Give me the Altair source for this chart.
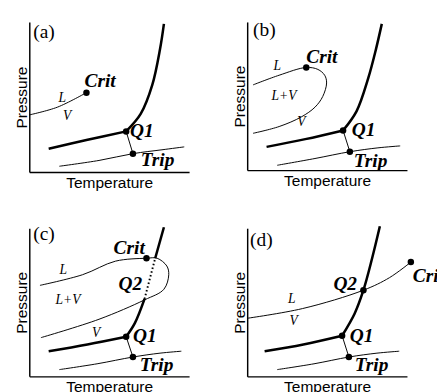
import altair as alt
import pandas as pd

# ---------------- data (schematic T, P units) ----------------
# panel (a)
A_SUB = [(31, 6), (72, 12), (107, 19), (137, 23), (160, 26)]
A_LOW = [(20, 24), (59, 33), (100, 42)]
A_QT = [(100, 42), (107, 19)]
A_MELT = [(100, 42), (115, 60), (127, 90), (135, 127), (139, 153)]
A_LV = [(0, 59), (29, 67), (59, 82)]
A_DOTS = [(59, 82), (100, 42), (107, 19)]
A_NAMES = ["Crit", "Q1", "Trip"]
A_NAME_POS = [(57, 88), (104, 36), (115, 6)]
A_PHASES = ["L", "V"]
A_PHASE_POS = [(34, 76), (39, 58)]

# panel (b)
B_SUB = [(31, 5), (70, 12), (106, 19), (135, 23), (158, 25)]
B_LOW = [(20, 24), (60, 32), (99, 41)]
B_QT = [(99, 41), (106, 19)]
B_MELT = [(99, 41), (113, 61), (125, 95), (133, 125), (139, 151)]
B_LOOP = [(6, 88), (33, 98), (61, 106), (73, 104), (80, 98), (82, 90), (78, 76),
          (70, 65), (56, 55), (33, 45), (6, 38)]
B_DOTS = [(61, 106), (99, 41), (106, 19)]
B_NAMES = ["Crit", "Q1", "Trip"]
B_NAME_POS = [(61, 111), (108, 35), (110, 3)]
B_PHASES = ["L", "L+V", "V"]
B_PHASE_POS = [(31, 107), (38, 76), (56, 50)]

# panel (c)
C_SUB = [(31, 7), (70, 13), (107, 20), (135, 24), (157, 26)]
C_LOW = [(20, 26), (60, 33), (100, 41)]
C_QT = [(100, 41), (107, 20)]
C_MELT_LO = [(100, 41), (109, 55), (119, 80)]
C_MELT_DOT = [(119, 80), (130, 122)]
C_MELT_HI = [(130, 122), (139, 154)]
C_LOOP = [(11, 94), (55, 105), (89, 119), (121, 122), (132, 122), (142, 114),
          (144, 105), (139, 90), (119, 79), (72, 59), (12, 40)]
C_DOTS = [(121, 122), (100, 41), (107, 20)]
C_NAMES = ["Crit", "Q2", "Q1", "Trip"]
C_NAME_POS = [(87, 126), (92, 89), (107, 36), (114, 6)]
C_PHASES = ["L", "L+V", "V"]
C_PHASE_POS = [(35, 110), (40, 79), (69, 45)]

# panel (d)
D_SUB = [(31, 7), (69, 13), (105, 20), (134, 24), (157, 26)]
D_LOW = [(18, 26), (58, 33), (98, 42)]
D_QT = [(98, 42), (105, 20)]
D_MELT = [(98, 42), (111, 65), (120, 89), (129, 122), (137, 155)]
D_LV = [(0, 60), (57, 70), (120, 89), (147, 102), (169, 118)]
D_DOTS = [(169, 118), (120, 89), (98, 42), (105, 20)]
D_NAMES = ["Crit", "Q2", "Q1", "Trip"]
D_NAME_POS = [(171, 97), (89, 89), (106, 36), (111, 6)]
D_PHASES = ["L", "V"]
D_PHASE_POS = [(46, 80), (48, 57)]

TAGS = ["(a)", "(b)", "(c)", "(d)"]
TAG_POS = [(4, 138), (6, 138), (4, 141), (3, 135)]

W = 165


def curves_df(curves):
    rows = []
    for name, pts in curves:
        for i, (t, p) in enumerate(pts):
            rows.append({"curve": name, "i": i, "T": t, "P": p})
    return pd.DataFrame(rows)


def text_df(labels, pos):
    return pd.DataFrame({"label": labels, "T": [p[0] for p in pos], "P": [p[1] for p in pos]})


def panel(tag, tag_pos, ymax, thin, thick, dotted, dots, names, name_pos,
          phases, phase_pos):
    xs = alt.X("T:Q", scale=alt.Scale(domain=[0, W]),
               axis=alt.Axis(title="Temperature", titlePadding=3))
    ys = alt.Y("P:Q", scale=alt.Scale(domain=[0, ymax]),
               axis=alt.Axis(title="Pressure", titlePadding=0))
    layers = []
    layers.append(alt.Chart(curves_df(thin)).mark_line(
        color="black", strokeWidth=1, interpolate="catmull-rom").encode(
        x=xs, y=ys, detail="curve:N", order="i:Q"))
    layers.append(alt.Chart(curves_df(thick)).mark_line(
        color="black", strokeWidth=2.6, interpolate="catmull-rom").encode(
        x=xs, y=ys, detail="curve:N", order="i:Q"))
    if dotted:
        layers.append(alt.Chart(curves_df(dotted)).mark_line(
            color="black", strokeWidth=2, strokeDash=[1.5, 2.5]).encode(
            x=xs, y=ys, detail="curve:N", order="i:Q"))
    dd = pd.DataFrame({"T": [d[0] for d in dots], "P": [d[1] for d in dots]})
    layers.append(alt.Chart(dd).mark_circle(color="black", size=45, opacity=1).encode(x=xs, y=ys))
    layers.append(alt.Chart(text_df(names, name_pos)).mark_text(
        align="left", baseline="alphabetic", font="Liberation Serif", fontStyle="italic",
        fontWeight="bold", fontSize=20, color="black").encode(x=xs, y=ys, text="label:N"))
    layers.append(alt.Chart(text_df(phases, phase_pos)).mark_text(
        align="center", baseline="middle", font="Liberation Serif", fontStyle="italic",
        fontSize=14, color="black").encode(x=xs, y=ys, text="label:N"))
    layers.append(alt.Chart(text_df([tag], [tag_pos])).mark_text(
        align="left", baseline="alphabetic", font="Liberation Serif",
        fontSize=20, color="black").encode(x=xs, y=ys, text="label:N"))
    return alt.layer(*layers).properties(width=W, height=ymax)


pa = panel(TAGS[0], TAG_POS[0], 155,
           [("sub", A_SUB), ("qt", A_QT), ("lv", A_LV)],
           [("low", A_LOW), ("melt", A_MELT)], None,
           A_DOTS, A_NAMES, A_NAME_POS, A_PHASES, A_PHASE_POS)
pb = panel(TAGS[1], TAG_POS[1], 153,
           [("sub", B_SUB), ("qt", B_QT), ("loop", B_LOOP)],
           [("low", B_LOW), ("melt", B_MELT)], None,
           B_DOTS, B_NAMES, B_NAME_POS, B_PHASES, B_PHASE_POS)
pc = panel(TAGS[2], TAG_POS[2], 153,
           [("sub", C_SUB), ("qt", C_QT), ("loop", C_LOOP)],
           [("low", C_LOW), ("mlo", C_MELT_LO), ("mhi", C_MELT_HI)],
           [("mdot", C_MELT_DOT)],
           C_DOTS, C_NAMES, C_NAME_POS, C_PHASES, C_PHASE_POS)
pd_ = panel(TAGS[3], TAG_POS[3], 153,
            [("sub", D_SUB), ("qt", D_QT), ("lv", D_LV)],
            [("low", D_LOW), ("melt", D_MELT)], None,
            D_DOTS, D_NAMES, D_NAME_POS, D_PHASES, D_PHASE_POS)

chart = alt.concat(
    pa, pb, pc, pd_,
    columns=2,
    spacing={"row": 58, "column": 60},
    bounds="flush",
).properties(
    padding={"left": 6, "top": 4, "right": -8, "bottom": 0},
    background="white",
).configure_view(stroke=None).configure_axis(
    domain=True, domainColor="black", domainWidth=1.5, ticks=False, labels=False, grid=False,
    titleFont="Liberation Sans", titleFontSize=16, titleFontWeight="normal",
    titleColor="black",
)

chart.save("out.html", embed_options={"renderer": "svg", "actions": False})
